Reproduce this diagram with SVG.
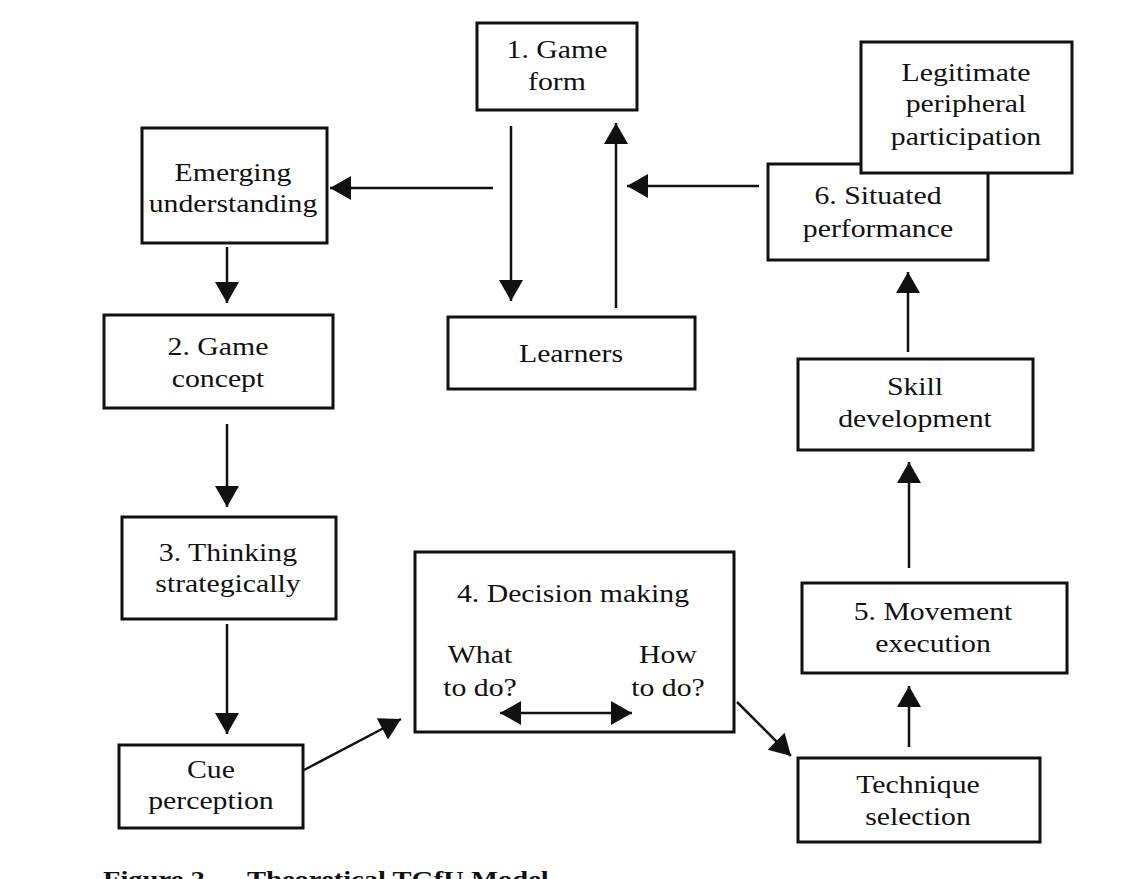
<svg xmlns="http://www.w3.org/2000/svg" width="1128" height="879" viewBox="0 0 1128 879">
<style>
  .box { fill: #fff; stroke: #111; stroke-width: 3; }
  .lbl { font-family: "Liberation Serif", "Times New Roman", serif; font-size: 25px; fill: #111; text-anchor: middle; }
  .cap { font-family: "Liberation Serif", "Times New Roman", serif; font-size: 24px; font-weight: bold; fill: #111; }
  .edge { stroke: #111; stroke-width: 2.5; fill: none; }
</style>
<defs>
  <marker id="ah" markerUnits="userSpaceOnUse" markerWidth="22" markerHeight="24" refX="21" refY="12" orient="auto-start-reverse" overflow="visible">
    <path d="M0,0 L21,12 L0,24 Z" fill="#111"/>
  </marker>
</defs>
<rect width="1128" height="879" fill="#fff"/>

<g id="connectors">
  <line class="edge" x1="511" y1="126" x2="511" y2="301" marker-end="url(#ah)"/>
  <line class="edge" x1="616" y1="308" x2="616" y2="123" marker-end="url(#ah)"/>
  <line class="edge" x1="493" y1="188" x2="330" y2="188" marker-end="url(#ah)"/>
  <line class="edge" x1="759" y1="186" x2="627" y2="186" marker-end="url(#ah)"/>
  <line class="edge" x1="227" y1="247" x2="227" y2="303" marker-end="url(#ah)"/>
  <line class="edge" x1="227" y1="424" x2="227" y2="507" marker-end="url(#ah)"/>
  <line class="edge" x1="227" y1="624" x2="227" y2="734" marker-end="url(#ah)"/>
  <line class="edge" x1="304" y1="770" x2="401" y2="719" marker-end="url(#ah)"/>
  <line class="edge" x1="737" y1="702" x2="791" y2="756" marker-end="url(#ah)"/>
  <line class="edge" x1="909" y1="747" x2="909" y2="686" marker-end="url(#ah)"/>
  <line class="edge" x1="909" y1="568" x2="909" y2="462" marker-end="url(#ah)"/>
  <line class="edge" x1="908" y1="352" x2="908" y2="272" marker-end="url(#ah)"/>
</g>

<g id="game-form">
  <rect class="box" x="477" y="23" width="160" height="87"/>
  <text class="lbl" transform="scale(1.19 1)" x="468.07" y="58">1. Game</text>
  <text class="lbl" transform="scale(1.19 1)" x="468.07" y="90">form</text>
</g>

<g id="emerging-understanding">
  <rect class="box" x="142" y="128" width="185" height="115"/>
  <text class="lbl" transform="scale(1.19 1)" x="195.8" y="181">Emerging</text>
  <text class="lbl" transform="scale(1.19 1)" x="195.8" y="212">understanding</text>
</g>

<g id="game-concept">
  <rect class="box" x="104" y="315" width="229" height="93"/>
  <text class="lbl" transform="scale(1.19 1)" x="183.19" y="355">2. Game</text>
  <text class="lbl" transform="scale(1.19 1)" x="183.19" y="387">concept</text>
</g>

<g id="learners">
  <rect class="box" x="448" y="317" width="247" height="72"/>
  <text class="lbl" transform="scale(1.19 1)" x="479.83" y="362">Learners</text>
</g>

<g id="situated-performance">
  <rect class="box" x="768" y="164" width="220" height="96"/>
  <text class="lbl" transform="scale(1.19 1)" x="737.82" y="204">6. Situated</text>
  <text class="lbl" transform="scale(1.19 1)" x="737.82" y="237">performance</text>
</g>

<g id="legitimate-peripheral-participation">
  <rect class="box" x="861" y="42" width="211" height="131"/>
  <text class="lbl" transform="scale(1.19 1)" x="811.76" y="81">Legitimate</text>
  <text class="lbl" transform="scale(1.19 1)" x="811.76" y="112">peripheral</text>
  <text class="lbl" transform="scale(1.19 1)" x="811.76" y="145">participation</text>
</g>

<g id="skill-development">
  <rect class="box" x="798" y="359" width="235" height="91"/>
  <text class="lbl" transform="scale(1.19 1)" x="768.91" y="395">Skill</text>
  <text class="lbl" transform="scale(1.19 1)" x="768.91" y="427">development</text>
</g>

<g id="thinking-strategically">
  <rect class="box" x="122" y="517" width="214" height="102"/>
  <text class="lbl" transform="scale(1.19 1)" x="191.6" y="561">3. Thinking</text>
  <text class="lbl" transform="scale(1.19 1)" x="191.6" y="592">strategically</text>
</g>

<g id="decision-making">
  <rect class="box" x="415" y="552" width="319" height="180"/>
  <text class="lbl" transform="scale(1.19 1)" x="481.51" y="602">4. Decision making</text>
  <text class="lbl" transform="scale(1.19 1)" x="403.36" y="663">What</text>
  <text class="lbl" transform="scale(1.19 1)" x="403.36" y="696">to do?</text>
  <text class="lbl" transform="scale(1.19 1)" x="561.34" y="663">How</text>
  <text class="lbl" transform="scale(1.19 1)" x="561.34" y="696">to do?</text>
  <line class="edge" x1="500" y1="713" x2="632" y2="713" marker-start="url(#ah)" marker-end="url(#ah)"/>
</g>

<g id="cue-perception">
  <rect class="box" x="119" y="745" width="184" height="83"/>
  <text class="lbl" transform="scale(1.19 1)" x="177.31" y="778">Cue</text>
  <text class="lbl" transform="scale(1.19 1)" x="177.31" y="809">perception</text>
</g>

<g id="movement-execution">
  <rect class="box" x="802" y="583" width="265" height="90"/>
  <text class="lbl" transform="scale(1.19 1)" x="784.03" y="620">5. Movement</text>
  <text class="lbl" transform="scale(1.19 1)" x="784.03" y="652">execution</text>
</g>

<g id="technique-selection">
  <rect class="box" x="798" y="758" width="242" height="84"/>
  <text class="lbl" transform="scale(1.19 1)" x="771.43" y="793">Technique</text>
  <text class="lbl" transform="scale(1.19 1)" x="771.43" y="825">selection</text>
</g>

<text class="cap" transform="scale(1.19 1)" x="86.55" y="887">Figure 2 — Theoretical TGfU Model</text>
</svg>
